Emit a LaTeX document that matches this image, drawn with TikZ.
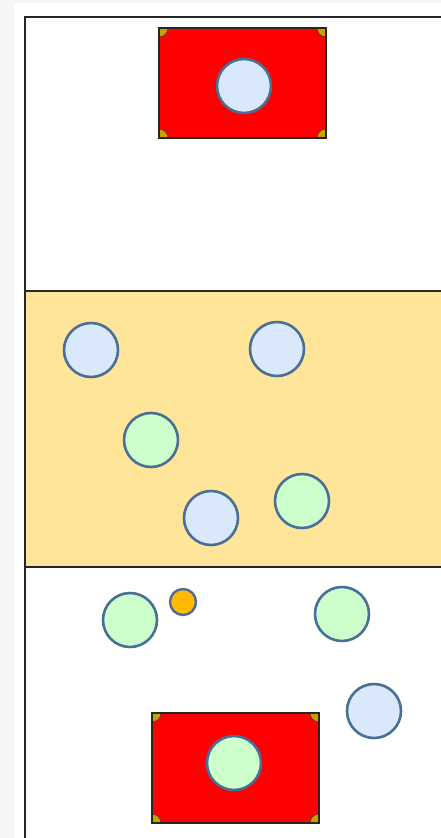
\documentclass[tikz,border=0pt]{standalone}
\begin{document}
\begin{tikzpicture}[x=1pt,y=-1pt]
\definecolor{bluefill}{HTML}{DAE8FC}
\definecolor{greenfill}{HTML}{CCFFCC}
\definecolor{orangefill}{HTML}{FFBA00}
\definecolor{strokeblue}{HTML}{4A6F96}
\definecolor{yellowband}{HTML}{FFE599}
\definecolor{goldfill}{HTML}{CC9F00}
\definecolor{bggray}{HTML}{F6F6F6}
\tikzset{
  frameline/.style={draw=black!85,line width=1.8pt},
  ballblue/.style={circle,draw=strokeblue,line width=2.6pt,fill=bluefill,minimum size=54pt,inner sep=0pt},
  ballgreen/.style={ballblue,fill=greenfill},
  ballorange/.style={circle,draw=strokeblue,line width=2.4pt,fill=orangefill,minimum size=26pt,inner sep=0pt},
  redbox/.style={draw=black!85,line width=1.3pt,fill=red},
  cornerfill/.style={fill=goldfill,draw=black!75,line width=0.7pt}}
\useasboundingbox (0,0) rectangle (441,838);
\fill[bggray] (0,0) rectangle (441,838);
\fill[white] (14,3) rectangle (441,838);
% bands
\fill[yellowband] (25,291) rectangle (441,567);
\draw[frameline] (441,17) -- (25,17) -- (25,838);
\draw[frameline] (25,291) -- (441,291);
\draw[frameline] (25,567) -- (441,567);
% red boxes
\draw[redbox] (159,28) rectangle (326,138);
\draw[redbox] (152,713) rectangle (319,823);
\foreach \xa/\ya/\xb/\yb in {159/28/326/138,152/713/319/823}{
  \draw[cornerfill] (\xa,\ya) -- ++(9,0) arc[start angle=0,end angle=90,radius=9] -- cycle;
  \draw[cornerfill] (\xb,\ya) -- ++(-9,0) arc[start angle=180,end angle=90,radius=9] -- cycle;
  \draw[cornerfill] (\xa,\yb) -- ++(9,0) arc[start angle=0,end angle=-90,radius=9] -- cycle;
  \draw[cornerfill] (\xb,\yb) -- ++(-9,0) arc[start angle=180,end angle=270,radius=9] -- cycle;
}
\draw[draw=black!85,line width=1.3pt] (159,28) rectangle (326,138);
\draw[draw=black!85,line width=1.3pt] (152,713) rectangle (319,823);
% balls
\node[ballblue] (b1) at (244,86) {};
\node[ballblue] (b2) at (91,350) {};
\node[ballblue] (b3) at (277,349) {};
\node[ballgreen] (g1) at (151,440) {};
\node[ballblue] (b4) at (211,518) {};
\node[ballgreen] (g2) at (302,501) {};
\node[ballgreen] (g3) at (130,620) {};
\node[ballorange] (o1) at (183,602) {};
\node[ballgreen] (g4) at (342,614) {};
\node[ballblue] (b5) at (374,711) {};
\node[ballgreen] (g5) at (234,763) {};
\end{tikzpicture}
\end{document}
